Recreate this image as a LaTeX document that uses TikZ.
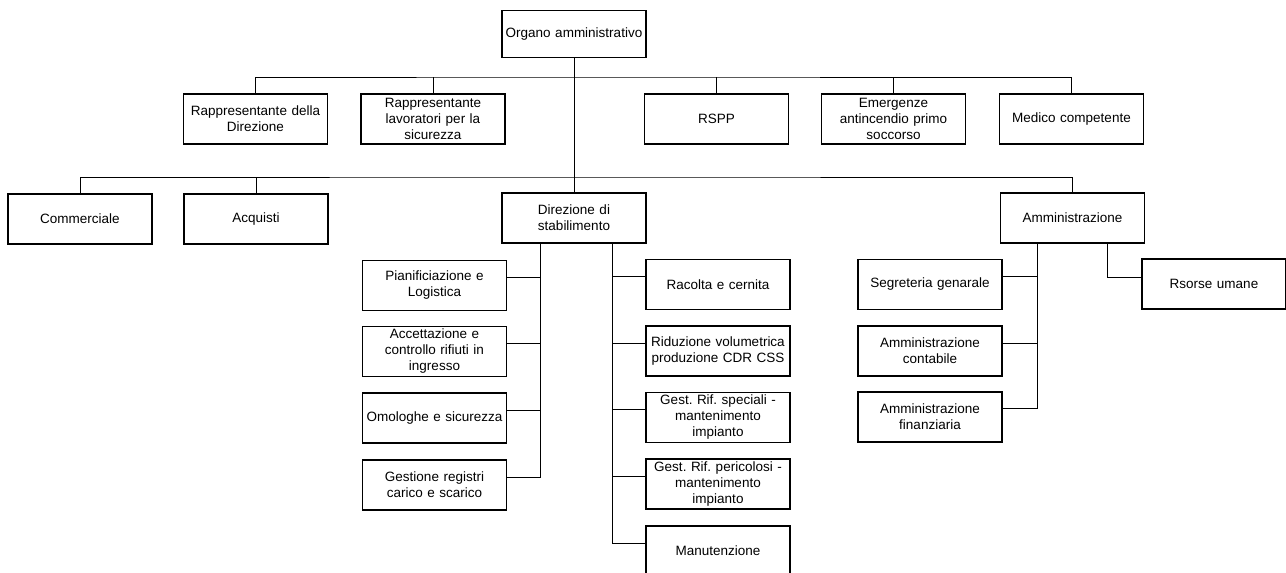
\documentclass[tikz,border=0pt]{standalone}
\usepackage{fontspec}
\setmainfont{Liberation Sans}
\usetikzlibrary{positioning, calc}

\newcommand{\orgfont}{\fontsize{13.5}{16}\selectfont\frenchspacing}

\tikzset{
  orgbox/.style={draw, line width=1.3pt, text width=140pt, inner xsep=2pt,
                 inner ysep=0pt, minimum height=50pt, align=center, font=\orgfont},
  orgline/.style={line width=0.9pt}
}

\begin{document}
\begin{tikzpicture}[x=1pt, y=-1pt]
  \useasboundingbox (0,0) rectangle (1286,573);

  \node[orgbox, minimum height=47pt] (org) at (574,34) {Organo amministrativo};

  \node[orgbox] (rdd)  at (255.5,119) {Rappresentante della\\Direzione};
  \node[orgbox] (rls)  at (433,119)   {Rappresentante\\lavoratori per la\\sicurezza};
  \node[orgbox] (rspp) at (716.5,119) {RSPP};
  \node[orgbox] (emer) at (893.5,119) {Emergenze\\antincendio primo\\soccorso};
  \node[orgbox] (med)  at (1071.5,119) {Medico competente};

  \node[orgbox] (comm) at (80,219)     {Commerciale};
  \node[orgbox] (acq)  at (256,219)    {Acquisti};
  \node[orgbox] (dir)  at (574,218)    {Direzione di\\stabilimento};
  \node[orgbox] (amm)  at (1072.5,218) {Amministrazione};

  \node[orgbox] (pian) at (434.5,285.5) {Pianificiazione e\\Logistica};
  \node[orgbox] (acc)  at (434.5,351.5) {Accettazione e\\controllo rifiuti in\\ingresso};
  \node[orgbox] (omo)  at (434.5,418)   {Omologhe e sicurezza};
  \node[orgbox] (gest) at (434.5,485)   {Gestione registri\\carico e scarico};

  \node[orgbox] (rac)  at (718,284.5) {Racolta e cernita};
  \node[orgbox] (rid)  at (718,351)   {Riduzione volumetrica\\produzione CDR CSS};
  \node[orgbox] (gsp)  at (718,417.5) {Gest. Rif. speciali -\\mantenimento\\impianto};
  \node[orgbox] (gpe)  at (718,484)   {Gest. Rif. pericolosi -\\mantenimento\\impianto};
  \node[orgbox] (man)  at (718,551)   {Manutenzione};

  \node[orgbox] (seg)  at (930,284.5) {Segreteria genarale};
  \node[orgbox] (amc)  at (930,351)   {Amministrazione\\contabile};
  \node[orgbox] (amf)  at (930,417)   {Amministrazione\\finanziaria};
  \node[orgbox] (rsu)  at (1214,284)  {Rsorse umane};

  \coordinate (bar1) at (574,77);
  \coordinate (bar2) at (574,177);
  \coordinate (dl) at ($(dir.south)+(-33.5,0)$);
  \coordinate (dr) at ($(dir.south)+(38,0)$);
  \coordinate (al) at ($(amm.south)+(-35.5,0)$);
  \coordinate (ar) at ($(amm.south)+(34.5,0)$);

  \draw[orgline] (org.south) -- (dir.north);
  \draw[orgline] (rdd.north) |- (bar1) -| (med.north);
  \foreach \n in {rls,rspp,emer}
    \draw[orgline] (\n.north) -- (\n.north |- bar1);
  \draw[orgline] (comm.north) |- (bar2) -| (amm.north);
  \draw[orgline] (acq.north) -- (acq.north |- bar2);

  \draw[orgline] (dl) |- ([yshift=8pt]gest.east);
  \foreach \n in {pian,acc,omo}
    \draw[orgline] ([yshift=8pt]\n.east) -- ([yshift=8pt]\n.east -| dl);
  \draw[orgline] (dr) |- ([yshift=8pt]man.west);
  \foreach \n in {rac,rid,gsp,gpe}
    \draw[orgline] ([yshift=8pt]\n.west) -- ([yshift=8pt]\n.west -| dr);
  \draw[orgline] (al) |- ([yshift=9pt]amf.east);
  \foreach \n in {seg,amc}
    \draw[orgline] ([yshift=8pt]\n.east) -- ([yshift=8pt]\n.east -| al);
  \draw[orgline] (ar) |- ([yshift=7pt]rsu.west);
\end{tikzpicture}
\end{document}
